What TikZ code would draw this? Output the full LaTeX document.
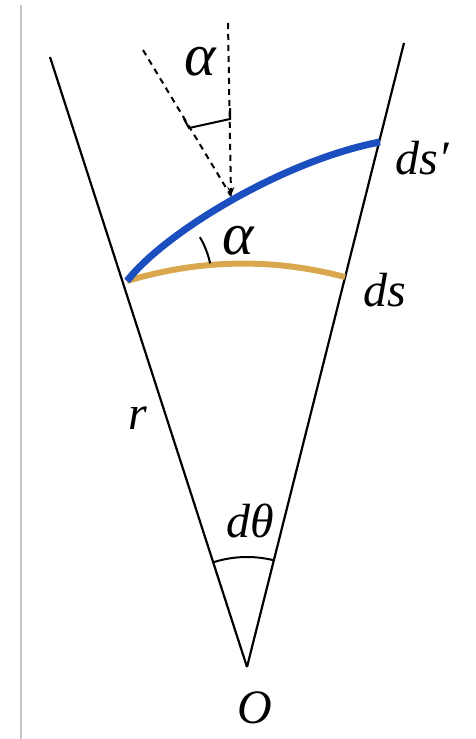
\documentclass[tikz,border=0pt]{standalone}
\usepackage{fontspec}
\setmainfont{Liberation Serif}
\usetikzlibrary{arrows.meta}
\definecolor{arcblue}{HTML}{1B4FBF}
\definecolor{arcgold}{HTML}{D9A84E}
\begin{document}
\begin{tikzpicture}[x=1pt,y=-1pt,
  radial/.style={line width=2.2pt,black},
  dashline/.style={line width=2pt,dash pattern=on 6pt off 5pt},
  lbl/.style={inner sep=0pt,font=\fontsize{48}{48}\selectfont\itshape},
  albl/.style={inner sep=0pt,font=\fontsize{60}{60}\selectfont\itshape},
  anglemark/.style={line width=2pt}]
\useasboundingbox (0,0) rectangle (476,739);
\fill[white] (0,0) rectangle (476,739);
% left border line
\draw[gray!45,line width=2.5pt] (21,5) -- (21,739);
% points
\coordinate (O) at (247,667);
\coordinate (L) at (50,57);
\coordinate (R) at (404,43);
\coordinate (A) at (127,281);
\coordinate (B) at (345,277);
\coordinate (C) at (380,142);
\coordinate (P) at (231,196);
\coordinate (V) at (228,23);
\coordinate (S) at (143,50);
% radial lines
\draw[radial] (L) -- (O);
\draw[radial] (R) -- (O);
% arcs
\draw[arcgold,line width=6pt] (A) .. controls (200,259) and (273,258) .. (B);
\draw[arcblue,line width=7pt] (A) .. controls (165,232) and (285,160) .. (C);
% dashed lines
\draw[dashline,-{Stealth[length=9pt,width=7pt]}] (V) -- (P);
\draw[dashline] (S) -- (P);
% right-angle bracket
\draw[anglemark] (184,119) -- (189,128) -- (230,119) -- (230,108);
% angle alpha arc
\draw[anglemark] (210.1,263.3) .. controls (208.1,254.1) and (204.7,245.3) .. (199.9,237.2);
% d theta arc
\draw[anglemark] (273.9,560.3) .. controls (253.9,555.3) and (232.8,556.0) .. (213.2,562.3);
% labels
\node[albl] (la1) at (200,62) {α};
\node[albl] (la2) at (238,241) {α};
\node[lbl] (lds2) at (422,158) {ds′};
\node[lbl] (lds) at (385,290) {ds};
\node[lbl] (lr) at (138,418) {r};
\node[lbl] (ldt) at (250,521) {dθ};
\node[lbl] (lO) at (255,708) {O};
\end{tikzpicture}
\end{document}
